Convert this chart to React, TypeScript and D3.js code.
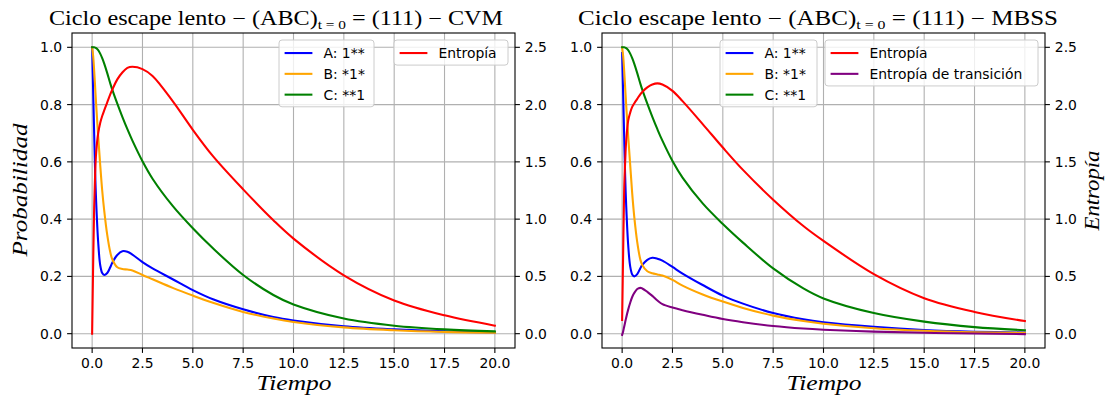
import React from "react";
import * as d3 from "d3";

// ---------- data ----------
const T = [0, 0.05, 0.1, 0.15, 0.2, 0.3, 0.4, 0.5, 0.6, 0.75, 0.9, 1.0, 1.25, 1.5, 1.75, 2, 2.5, 3, 4, 5, 6, 7.5, 9, 10, 12.5, 15, 17.5, 20];

const cvmA = [1.0, 0.85, 0.7, 0.56, 0.46, 0.32, 0.24, 0.212, 0.205, 0.212, 0.232, 0.248, 0.275, 0.288, 0.286, 0.276, 0.25, 0.228, 0.19, 0.152, 0.12, 0.085, 0.058, 0.046, 0.026, 0.015, 0.008, 0.004];
const cvmB = [1.0, 0.97, 0.92, 0.86, 0.8, 0.69, 0.59, 0.5, 0.43, 0.345, 0.285, 0.26, 0.232, 0.226, 0.224, 0.221, 0.205, 0.19, 0.16, 0.133, 0.108, 0.076, 0.053, 0.041, 0.022, 0.012, 0.006, 0.003];
const cvmC = [1.0, 1.0, 1.0, 0.999, 0.997, 0.99, 0.978, 0.962, 0.943, 0.91, 0.874, 0.852, 0.803, 0.757, 0.714, 0.674, 0.602, 0.541, 0.446, 0.368, 0.298, 0.205, 0.135, 0.102, 0.053, 0.028, 0.015, 0.008];
const cvmS = [0, 0.6, 1.1, 1.4, 1.58, 1.75, 1.84, 1.9, 1.95, 2.02, 2.09, 2.13, 2.22, 2.28, 2.32, 2.33, 2.31, 2.25, 2.03, 1.78, 1.55, 1.26, 0.99, 0.83, 0.51, 0.29, 0.16, 0.07];

const mbssA = [0.98, 0.84, 0.69, 0.55, 0.45, 0.31, 0.235, 0.207, 0.2, 0.208, 0.228, 0.24, 0.258, 0.265, 0.262, 0.255, 0.233, 0.21, 0.17, 0.133, 0.105, 0.072, 0.05, 0.04, 0.024, 0.013, 0.007, 0.004];
const mbssB = [1.0, 0.97, 0.92, 0.86, 0.8, 0.69, 0.59, 0.49, 0.41, 0.32, 0.26, 0.24, 0.218, 0.211, 0.207, 0.203, 0.188, 0.168, 0.137, 0.112, 0.09, 0.063, 0.044, 0.035, 0.019, 0.01, 0.005, 0.003];
const mbssC = [1.0, 1.0, 1.0, 0.999, 0.997, 0.99, 0.978, 0.962, 0.943, 0.91, 0.874, 0.852, 0.803, 0.757, 0.714, 0.674, 0.603, 0.545, 0.455, 0.383, 0.318, 0.228, 0.158, 0.123, 0.072, 0.042, 0.023, 0.012];
const mbssS = [0.12, 0.7, 1.25, 1.5, 1.68, 1.86, 1.93, 1.98, 2.01, 2.05, 2.09, 2.11, 2.15, 2.175, 2.185, 2.175, 2.12, 2.03, 1.83, 1.625, 1.43, 1.17, 0.94, 0.81, 0.52, 0.31, 0.19, 0.11];
const mbssST = [-0.01, 0.02, 0.06, 0.1, 0.14, 0.21, 0.27, 0.32, 0.355, 0.39, 0.4, 0.395, 0.365, 0.33, 0.29, 0.258, 0.228, 0.205, 0.165, 0.128, 0.1, 0.067, 0.045, 0.035, 0.018, 0.008, 0.002, -0.004];

const xTicks = [0, 2.5, 5, 7.5, 10, 12.5, 15, 17.5, 20];
const probTicks = [0, 0.2, 0.4, 0.6, 0.8, 1.0];
const entTicks = [0, 0.5, 1.0, 1.5, 2.0, 2.5];

const probLabels = ["A: 1**", "B: *1*", "C: **1"];
const probColors = ["blue", "orange", "green"];

// ---------- layout ----------
const TOP = 33;
const BOTTOM = 348;
const AX_W = 443;
const TICK_FONT = "DejaVu Sans, sans-serif";
const SERIF = "'Liberation Serif', 'DejaVu Serif', serif";
const FS = 13.9;

type Series = { label: string; color: string; values: number[] };

type LegendSpec = { x: number; y: number; w: number; items: Series[] };

function Legend({ spec }: { spec: LegendSpec }) {
  const pad = 5.6;
  const rowH = 20.8;
  const h = pad * 2 + spec.items.length * FS + (spec.items.length - 1) * 6.95;
  return (
    <g>
      <rect x={spec.x} y={spec.y} width={spec.w} height={h} rx={3} ry={3}
        fill="white" fillOpacity={0.8} stroke="#cccccc" strokeWidth={1} />
      {spec.items.map((s, i) => {
        const cy = spec.y + pad + FS / 2 + i * rowH + 0.5;
        return (
          <g key={s.label}>
            <line x1={spec.x + pad} x2={spec.x + pad + 27.8} y1={cy} y2={cy} stroke={s.color} strokeWidth={2.08} />
            <text x={spec.x + pad + 27.8 + 11.1} y={cy + 5} fontFamily={TICK_FONT} fontSize={FS} fill="#000">{s.label}</text>
          </g>
        );
      })}
    </g>
  );
}

function Panel(props: {
  left: number;
  method: string;
  titleX: number;
  titleLen: number;
  probSeries: Series[];
  entSeries: Series[];
  legend1: LegendSpec;
  legend2: LegendSpec;
  showProbLabel: boolean;
  showEntLabel: boolean;
  clipId: string;
}) {
  const { left } = props;
  const right = left + AX_W;
  const x = d3.scaleLinear().domain([-1, 21]).range([left, right]);
  const yP = d3.scaleLinear().domain([-0.05, 1.05]).range([BOTTOM, TOP]);
  const yE = d3.scaleLinear().domain([-0.125, 2.625]).range([BOTTOM, TOP]);
  const curve = d3.curveCatmullRom.alpha(0.5);
  const lineP = d3.line<number>().x((_, i) => x(T[i])).y((d) => yP(d)).curve(curve);
  const lineE = d3.line<number>().x((_, i) => x(T[i])).y((d) => yE(d)).curve(curve);
  const cx = (left + right) / 2;

  return (
    <g>
      <clipPath id={props.clipId}>
        <rect x={left} y={TOP} width={AX_W} height={BOTTOM - TOP} />
      </clipPath>
      {/* grid */}
      {xTicks.map((t) => (
        <line key={"gx" + t} x1={x(t)} x2={x(t)} y1={TOP} y2={BOTTOM} stroke="#b0b0b0" strokeWidth={1.1} />
      ))}
      {probTicks.map((t) => (
        <line key={"gy" + t} x1={left} x2={right} y1={yP(t)} y2={yP(t)} stroke="#b0b0b0" strokeWidth={1.1} />
      ))}
      {/* prob lines */}
      <g clipPath={`url(#${props.clipId})`}>
        {props.probSeries.map((s) => (
          <path key={s.label} d={lineP(s.values) || ""} fill="none" stroke={s.color} strokeWidth={2.08} strokeLinejoin="round" strokeLinecap="square" />
        ))}
      </g>
      <Legend spec={props.legend1} />
      <g clipPath={`url(#${props.clipId})`}>
        {props.entSeries.map((s) => (
          <path key={s.label} d={lineE(s.values) || ""} fill="none" stroke={s.color} strokeWidth={2.08} strokeLinejoin="round" strokeLinecap="square" />
        ))}
      </g>
      <Legend spec={props.legend2} />
      {/* spines */}
      <rect x={left} y={TOP} width={AX_W} height={BOTTOM - TOP} fill="none" stroke="#000" strokeWidth={1.1} />
      {/* x ticks */}
      {xTicks.map((t) => (
        <g key={"xt" + t}>
          <line x1={x(t)} x2={x(t)} y1={BOTTOM} y2={BOTTOM + 4.9} stroke="#000" strokeWidth={1.1} />
          <text x={x(t)} y={368} textAnchor="middle" fontFamily={TICK_FONT} fontSize={FS} fill="#000">{t.toFixed(1)}</text>
        </g>
      ))}
      {/* left ticks */}
      {probTicks.map((t) => (
        <g key={"yt" + t}>
          <line x1={left - 4.9} x2={left} y1={yP(t)} y2={yP(t)} stroke="#000" strokeWidth={1.1} />
          <text x={left - 9.8} y={yP(t) + 5} textAnchor="end" fontFamily={TICK_FONT} fontSize={FS} fill="#000">{t.toFixed(1)}</text>
        </g>
      ))}
      {/* right ticks */}
      {entTicks.map((t) => (
        <g key={"et" + t}>
          <line x1={right} x2={right + 4.9} y1={yE(t)} y2={yE(t)} stroke="#000" strokeWidth={1.1} />
          <text x={right + 9.8} y={yE(t) + 5} textAnchor="start" fontFamily={TICK_FONT} fontSize={FS} fill="#000">{t.toFixed(1)}</text>
        </g>
      ))}
      {/* title */}
      <text x={props.titleX} y={25} fontFamily={SERIF} fontSize={20.5} fill="#000" textLength={props.titleLen} lengthAdjust="spacingAndGlyphs">
        {"Ciclo escape lento  \u2212  (ABC)"}
        <tspan fontSize={13} dy={4}>{"t = 0"}</tspan>
        <tspan dy={-4}>{" = (111)  \u2212  " + props.method}</tspan>
      </text>
      {/* x label */}
      <text x={cx - 37} y={390} fontFamily={SERIF} fontStyle="italic" fontSize={22} fill="#000" textLength={75} lengthAdjust="spacingAndGlyphs">Tiempo</text>
      {props.showProbLabel && (
        <text transform={`translate(27,${(TOP + BOTTOM) / 2 + 66}) rotate(-90)`} fontFamily={SERIF} fontStyle="italic" fontSize={22} fill="#000" textLength={133} lengthAdjust="spacingAndGlyphs">Probabilidad</text>
      )}
      {props.showEntLabel && (
        <text transform={`translate(1099,${(TOP + BOTTOM) / 2 + 40}) rotate(-90)`} fontFamily={SERIF} fontStyle="italic" fontSize={22} fill="#000" textLength={80} lengthAdjust="spacingAndGlyphs">Entropía</text>
      )}
    </g>
  );
}

export default function App() {
  const cvmProb: Series[] = [cvmA, cvmB, cvmC].map((v, i) => ({ label: probLabels[i], color: probColors[i], values: v }));
  const mbssProb: Series[] = [mbssA, mbssB, mbssC].map((v, i) => ({ label: probLabels[i], color: probColors[i], values: v }));
  const cvmEnt: Series[] = [{ label: "Entropía", color: "red", values: cvmS }];
  const mbssEnt: Series[] = [
    { label: "Entropía", color: "red", values: mbssS },
    { label: "Entropía de transición", color: "purple", values: mbssST },
  ];
  return (
    <svg width={1107} height={403} style={{ position: "absolute", left: 0, top: 0, background: "white" }}>
      <rect x={0} y={0} width={1107} height={403} fill="white" />
      <Panel left={72} method="CVM" titleX={49} titleLen={454} probSeries={cvmProb} entSeries={cvmEnt}
        legend1={{ x: 279, y: 40, w: 95, items: cvmProb }}
        legend2={{ x: 394, y: 40, w: 114, items: cvmEnt }}
        showProbLabel={true} showEntLabel={false} clipId="clipL" />
      <Panel left={602} method="MBSS" titleX={578} titleLen={480} probSeries={mbssProb} entSeries={mbssEnt}
        legend1={{ x: 720, y: 40, w: 97, items: mbssProb }}
        legend2={{ x: 825, y: 40, w: 213, items: mbssEnt }}
        showProbLabel={false} showEntLabel={true} clipId="clipR" />
    </svg>
  );
}
